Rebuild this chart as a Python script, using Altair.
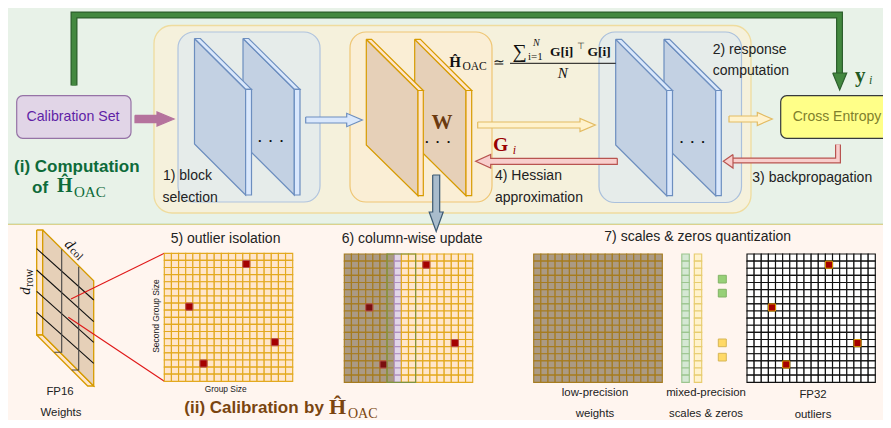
import altair as alt
import pandas as pd

W, H = 875, 412
X = alt.X("x:Q", scale=alt.Scale(domain=[8, 883]), axis=None)
Y = alt.Y("y:Q", scale=alt.Scale(domain=[420, 8]), axis=None)
X2 = alt.X2("x2:Q"); Y2 = alt.Y2("y2:Q")

# ---- colours
BLUE_F, BLUE_S, BLUE_L = "#c3d1e3", "#6c8ebf", "#dae8fc"
OR_F, OR_S, OR_L = "#e6d0b8", "#d79b00", "#ffe6cc"
DK_F, DK_S = "#ab9a84", "#a67c1f"

# ---- backgrounds: x, x2, y, y2, fill, stroke
sections = [
    (7, 895, 4, 224, "#e8f2e8", "#c3d9b0"),
    (7, 895, 224.5, 432, "#fff5ef", "#dcd28c"),
]
big_round = [(154, 751, 25.5, 213, "#f5f1dc", "#efdc9e")]
panels = [
    (178, 320, 32, 202, "#e6ecea", "#b0c4de"),
    (350, 492, 32, 202, "#faeed5", "#efc674"),
    (599, 741.5, 32, 202.5, "#e6ecea", "#aac0dc"),
]
boxes = [
    (16.7, 131, 95.7, 138.3, "#e1d5e7", "#9673a6"),
    (780.7, 899, 95.7, 138.3, "#ffff88", "#36393d"),
]

# ---- layer stacks: left, face right, sliver right, top-left y, top-right y, bottom-left y, bottom-right y
stacks = [
    (243, 294.3, 300, 38.5, 89.3, 144, 195, "b"),
    (194.5, 245.6, 251.5, 38.5, 89.3, 144, 195, "b"),
    (414.7, 466, 471.7, 39.3, 90.5, 145, 195.7, "o"),
    (366.3, 418, 423.3, 39.3, 90.5, 145, 195.7, "o"),
    (664, 715.7, 721.3, 39.3, 90.5, 145, 195.7, "b"),
    (615.7, 666.7, 672.5, 39.3, 90.5, 145, 195.7, "b"),
]

# ---- horizontal block arrows: tail x, head base x, tip x, centre y, shaft half, head half, fill, stroke
h_arrows = [
    (135, 157, 174, 119, 3.7, 7, "#b5739d", "#b5739d"),
    (305.7, 346.7, 362.3, 120, 3, 6.7, "#dae8fc", "#6c8ebf"),
    (477.7, 580, 595.3, 125, 3, 6.5, "#fff2cc", "#e3bb62"),
    (729, 757.3, 772.3, 119, 3, 6.5, "#fff2cc", "#e3bb62"),
    (617.3, 490.7, 475.7, 161.3, 3, 6.8, "#f8cecc", "#b85450"),
]
# ---- vertical block arrow: cx, tail y, head base y, tip y, shaft half, head half
down_arrow = (436.2, 175, 212, 231.5, 3.5, 7, "#a9bccc", "#3d5a73")
# ---- elbow arrows
green_path_x = [74, 74, 839.5, 839.5]
green_path_y = [85.6, 15, 15, 75]
green_head = [(832.7, 73), (846.7, 73), (839.7, 90)]
red_path_x = [838, 838, 733]
red_path_y = [144.5, 160.5, 160.5]
red_head = [(733, 154.5), (733, 168), (723.3, 161.3)]

# ---- weights slab
slab = [
    ([(36.7, 230), (42.7, 230), (42.7, 335), (36.7, 335)], OR_L, OR_S),
    ([(36.7, 335), (42.7, 335), (93.7, 386), (87.7, 386)], OR_L, OR_S),
    ([(42.7, 230), (93.7, 280.7), (93.7, 386), (42.7, 335)], OR_F, OR_S),
]
row_lines = [(248.7, 300), (270, 321.7), (291.3, 342.3), (312.3, 363.3)]
col_lines = [(61.7, 249.3, 352.3, 54.3), (78.7, 266.7, 370, 71.7)]
zoom_lines = [((71, 299), (164.3, 253.3)), ((68.3, 317.3), (164.3, 381.3))]

# ---- grids
N_CELLS = 18
outlier_cells = [(11, 1), (3, 7), (15, 12), (5, 15)]
g5 = (164.3, 292.7, 253.3, 381.3)
g6 = (344.3, 472.7, 254, 382.3)
g7 = (533.7, 662.3, 254, 382.3)
g8 = (747, 875.3, 254, 382.3)
col_green = (681.8, 689.3, 254, 382.3)
col_yellow = (694.3, 701.7, 254, 382.3)
small_squares = [
    (718.3, 726.3, 275.3, 283, "#97d077", "#82b366"),
    (718.3, 726.3, 289.3, 297, "#97d077", "#82b366"),
    (718.3, 726.3, 339, 346.7, "#ffd966", "#d6b656"),
    (718.3, 726.3, 353.3, 361, "#ffd966", "#d6b656"),
]

# ---- text: text, x, y, size, colour, align, angle
SANS = "Liberation Sans"; SERIF = "Liberation Serif"
DARK = "#222222"
DOTS = "·\u2002·\u2002·"
plain_text = [
    ("Calibration Set", 73, 117, 14.2, "#5f1fa6", "center", 0),
    ("Cross Entropy", 837, 117, 14, "#80802c", "center", 0),
    ("1) block", 163, 176, 14, DARK, "left", 0),
    ("selection", 162.5, 198, 14, DARK, "left", 0),
    ("2) response", 712.7, 50, 14, DARK, "left", 0),
    ("computation", 712.7, 71, 14, DARK, "left", 0),
    ("3) backpropagation", 752.3, 178, 14, DARK, "left", 0),
    ("4) Hessian", 495, 176, 14, DARK, "left", 0),
    ("approximation", 495, 198, 14, DARK, "left", 0),
    ("5) outlier isolation", 170.7, 239, 14, DARK, "left", 0),
    ("6) column-wise update", 341.7, 239, 14, DARK, "left", 0),
    ("7) scales & zeros quantization", 604.3, 237, 14, DARK, "left", 0),
    ("FP16", 60, 392, 11.4, DARK, "center", 0),
    ("Weights", 61, 413, 11.4, DARK, "center", 0),
    ("Group Size", 225.7, 389, 8.4, DARK, "center", 0),
    ("Second Group Size", 156.3, 316, 8.5, DARK, "center", 270),
    ("low-precision", 595, 393, 11.4, DARK, "center", 0),
    ("weights", 595, 414, 11.4, DARK, "center", 0),
    ("mixed-precision", 706, 393, 11.4, DARK, "center", 0),
    ("scales & zeros", 706, 414, 11.4, DARK, "center", 0),
    ("FP32", 813, 395, 11.4, DARK, "center", 0),
    ("outliers", 813, 414.5, 11.4, DARK, "center", 0),
]
bold_text = [
    ("(i) Computation", 14, 167, 17, "#0d6b3a", "left", 0),
    ("of", 32, 188, 17, "#0d6b3a", "left", 0),
    ("(ii) Calibration", 184.3, 408, 17, "#7a4510", "left", 0),
    ("by", 304, 408, 17, "#7a4510", "left", 0),
    (DOTS, 271, 141, 13, "#111111", "center", 0),
    (DOTS, 438, 142, 13, "#111111", "center", 0),
    (DOTS, 692.7, 142, 13, "#111111", "center", 0),
]
serif_text = [
    ("OAC", 74, 192, 15, "#0d6b3a", "left", 0),
    ("OAC", 348, 413.5, 14, "#7a4510", "left", 0),
    ("OAC", 462.5, 66.7, 11.5, "#111111", "left", 0),
    ("≃", 493, 62.5, 14, "#111111", "left", 0),
    ("∑", 512.5, 52, 20, "#111111", "left", 0),
    ("i=1", 528, 57, 11, "#111111", "left", 0),
    ("⊤", 576.5, 46, 9, "#111111", "left", 0),
    ("row", 30, 278, 11.5, "#111111", "center", 270),
    ("col", 76, 254, 11, "#111111", "center", 45),
]
serif_bold_text = [
    ("Ĥ", 57, 186, 20, "#0d6b3a", "left", 0),
    ("Ĥ", 329, 407, 22, "#7a4510", "left", 0),
    ("Ĥ", 449.3, 61.5, 15, "#111111", "left", 0),
    ("W", 442, 123, 21, "#6b3a10", "center", 0),
    ("G", 493, 145, 19.5, "#990000", "left", 0),
    ("y", 855, 76, 21, "#1f5a1f", "left", 0),
    ("G[i]", 550, 52, 13.5, "#111111", "left", 0),
    ("G[i]", 587.5, 52, 13.5, "#111111", "left", 0),
]
serif_italic_text = [
    ("N", 533, 43, 10, "#111111", "left", 0),
    ("N", 562.7, 72.7, 15, "#111111", "center", 0),
    ("i", 512.7, 150, 12, "#990000", "left", 0),
    ("i", 869, 80, 12, "#1f5a1f", "left", 0),
    ("d", 25, 291, 15, "#111111", "center", 270),
    ("d", 70, 244, 15, "#111111", "center", 45),
]


# ---- table builders
def rect_df(rows):
    return pd.DataFrame(rows, columns=["x", "x2", "y", "y2", "fill", "stroke"])


polys = []
def add_poly(pts, fill, stroke, sw=1.2):
    pid = len(polys) and polys[-1]["id"] + 1
    pts = list(pts) + [pts[0]]
    for i, (px, py) in enumerate(pts):
        polys.append(dict(id=pid, ord=i, x=px, y=py, fill=fill, stroke=stroke, sw=sw))


for l, r, s, tl, tr, bl, br, kind in stacks:
    f, st, lt = (BLUE_F, BLUE_S, BLUE_L) if kind == "b" else (OR_F, OR_S, OR_L)
    add_poly([(l, tl), (r, tr), (r, br), (l, bl)], f, st)
    add_poly([(l, tl), (l + s - r, tl), (s, tr), (r, tr)], lt, st)
    add_poly([(r, tr), (s, tr), (s, br), (r, br)], lt, st)
poly1 = polys
polys = []
for t, b, tip, cy, sh, hh, f, st in h_arrows:
    add_poly([(t, cy - sh), (b, cy - sh), (b, cy - hh), (tip, cy), (b, cy + hh), (b, cy + sh), (t, cy + sh)], f, st)
cx, ty, by, tipy, sh, hh, f, st = down_arrow
add_poly([(cx - sh, ty), (cx + sh, ty), (cx + sh, by), (cx + hh, by), (cx, tipy), (cx - hh, by), (cx - sh, by)], f, st)
poly2 = polys
polys = []
add_poly(green_head, "#43883f", "#2d5f2d", 1.2)
add_poly(red_head, "#f8cecc", "#b85450", 1.2)
poly3 = polys
polys = []
for pts, f, st in slab:
    add_poly(pts, f, st, 1.3)
poly4 = polys


def poly_layer(rows):
    return alt.Chart(pd.DataFrame(rows)).mark_line(strokeJoin="miter").encode(
        x=X, y=Y, order=alt.Order("ord:Q"), detail="id:N",
        fill=alt.Fill("fill:N", scale=None), stroke=alt.Stroke("stroke:N", scale=None),
        strokeWidth=alt.StrokeWidth("sw:Q", scale=None),
    )


def rect_layer(rows, radius=0, sw=1.0):
    return alt.Chart(rect_df(rows)).mark_rect(cornerRadius=radius, strokeWidth=sw).encode(
        x=X, x2=X2, y=Y, y2=Y2,
        fill=alt.Fill("fill:N", scale=None), stroke=alt.Stroke("stroke:N", scale=None),
    )


def path_layer(xs, ys, color, width):
    d = pd.DataFrame({"x": xs, "y": ys, "ord": range(len(xs))})
    return alt.Chart(d).mark_line(color=color, strokeWidth=width, strokeJoin="miter", strokeCap="butt").encode(
        x=X, y=Y, order=alt.Order("ord:Q"))


def cell_rows(box, cols, rows, fill, stroke, col_fill=None):
    x0, x1, y0, y1 = box
    dx, dy = (x1 - x0) / cols, (y1 - y0) / rows
    out = []
    for c in range(cols):
        for r in range(rows):
            fl = col_fill[c][0] if col_fill and c in col_fill else fill
            st = col_fill[c][1] if col_fill and c in col_fill else stroke
            out.append((x0 + c * dx, x0 + (c + 1) * dx, y0 + r * dy, y0 + (r + 1) * dy, fl, st))
    return out


def outliers(box, fills, stroke):
    x0, x1, y0, y1 = box
    dx, dy = (x1 - x0) / N_CELLS, (y1 - y0) / N_CELLS
    return [(x0 + c * dx, x0 + (c + 1) * dx, y0 + r * dy, y0 + (r + 1) * dy, f, stroke)
            for (c, r), f in zip(outlier_cells, fills)]


col_styles = {i: (DK_F, DK_S) for i in range(6)}
col_styles[6] = ("#a89a82", "#a08a3c")
col_styles[7] = ("#e1d5e7", "#b08fc0")
grid_rows = (
    cell_rows(g5, N_CELLS, N_CELLS, OR_L, "#e3a91f")
    + cell_rows(g6, N_CELLS, N_CELLS, OR_L, "#e3a91f", col_styles)
    + cell_rows(g7, N_CELLS, N_CELLS, DK_F, DK_S)
    + cell_rows(col_green, 1, N_CELLS, "#d5e8d4", "#9cc58e")
    + cell_rows(col_yellow, 1, N_CELLS, "#fff2cc", "#e8cc6e")
    + cell_rows(g8, N_CELLS, N_CELLS, "#ffffff", "#111111")
)
red = ["#a50000"] * 4
top_rows = (
    outliers(g5, red, "#b85450")
    + outliers(g6, ["#a50000", "#7a0f0f", "#a50000", "#7a0f0f"], "#b85450")
    + outliers(g8, red, "#d79b00")
    + small_squares
)
frame6 = [(g6[0] + 6 * (g6[1] - g6[0]) / 18, g6[0] + 10 * (g6[1] - g6[0]) / 18, g6[2], g6[3], "transparent", "#7f9440")]

seg = []
sid = 0
for a, b in row_lines:
    seg += [dict(id=sid, ord=0, x=36.7, y=a, c="#111111"), dict(id=sid, ord=1, x=93.7, y=b, c="#111111")]
    sid += 1
for xv, y0, y1, xt in col_lines:
    for i, (px, py) in enumerate([(xv, y0), (xv, y1), (xt, y1)]):
        seg.append(dict(id=sid, ord=i, x=px, y=py, c="#444444"))
    sid += 1
for a, b in zoom_lines:
    seg += [dict(id=sid, ord=0, x=a[0], y=a[1], c="#e01818"), dict(id=sid, ord=1, x=b[0], y=b[1], c="#e01818")]
    sid += 1
seg_layer = alt.Chart(pd.DataFrame(seg)).mark_line(strokeWidth=1.1).encode(
    x=X, y=Y, order=alt.Order("ord:Q"), detail="id:N", stroke=alt.Stroke("c:N", scale=None))

frac = alt.Chart(pd.DataFrame({"x": [510], "x2": [615.7], "y": [63.3]})).mark_rule(
    color="#111111", strokeWidth=1).encode(x=X, x2=X2, y=Y)


def text_layer(rows, **kw):
    d = pd.DataFrame(rows, columns=["t", "x", "y", "s", "c", "a", "ang"])
    layers = []
    for al, sub in d.groupby("a", sort=False):
        layers.append(alt.Chart(sub).mark_text(align=al, baseline="middle", **kw).encode(
            x=X, y=Y, text="t:N", size=alt.Size("s:Q", scale=None),
            color=alt.Color("c:N", scale=None), angle=alt.Angle("ang:Q", scale=None)))
    return layers


layers = [
    rect_layer(sections, 0, 1.2),
    rect_layer(big_round, 18, 1.3),
    rect_layer(panels, 16, 1.2),
    poly_layer(poly1),
    rect_layer(boxes, 6, 1.2),
    poly_layer(poly2),
    path_layer(green_path_x, green_path_y, "#2d5f2d", 7),
    path_layer(green_path_x, green_path_y, "#43883f", 4.6),
    path_layer(red_path_x, red_path_y, "#b85450", 6),
    path_layer(red_path_x, red_path_y, "#f8cecc", 3.6),
    poly_layer(poly3),
    poly_layer(poly4),
    seg_layer,
    rect_layer(grid_rows, 0, 1.15),
    rect_layer(top_rows, 0, 1.0),
    rect_layer(frame6, 0, 1.2),
    frac,
]
layers += text_layer(plain_text, font=SANS)
layers += text_layer(bold_text, font=SANS, fontWeight="bold")
layers += text_layer(serif_text, font=SERIF)
layers += text_layer(serif_bold_text, font=SERIF, fontWeight="bold")
layers += text_layer(serif_italic_text, font=SERIF, fontStyle="italic")

chart = alt.layer(*layers).properties(
    width=W, height=H, padding=0, autosize="none", background="white").configure_view(stroke=None)

chart.save("out.html", embed_options={"renderer": "svg", "actions": False})
